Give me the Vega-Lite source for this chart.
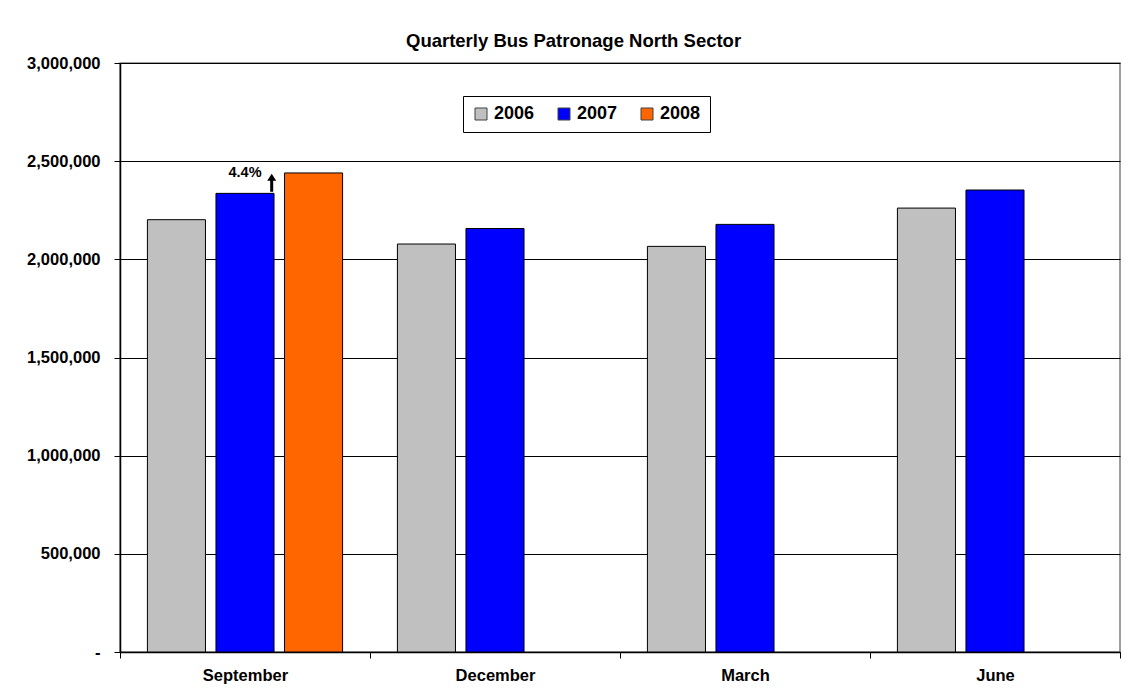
{
  "$schema": "https://vega.github.io/schema/vega-lite/v6.json",
  "width": 1000,
  "height": 589,
  "autosize": {"type": "none"},
  "padding": {"left": 120, "top": 63, "right": 10, "bottom": 45},
  "background": "white",
  "config": {
    "font": "Liberation Sans",
    "view": {"stroke": "#808080", "strokeWidth": 1.5}
  },
  "title": {
    "text": "Quarterly Bus Patronage North Sector",
    "fontSize": 18.5,
    "fontWeight": "bold",
    "font": "Liberation Sans",
    "color": "black",
    "anchor": "middle",
    "frame": "bounds",
    "offset": 5
  },
  "datasets": {
    "patronage": [
      {"month": "September", "year": "2006", "passengers": 2202000},
      {"month": "September", "year": "2007", "passengers": 2336000},
      {"month": "September", "year": "2008", "passengers": 2440000},
      {"month": "December", "year": "2006", "passengers": 2078000},
      {"month": "December", "year": "2007", "passengers": 2157000},
      {"month": "March", "year": "2006", "passengers": 2066000},
      {"month": "March", "year": "2007", "passengers": 2178000},
      {"month": "June", "year": "2006", "passengers": 2261000},
      {"month": "June", "year": "2007", "passengers": 2353000}
    ],
    "note": [
      {"month": "September", "year": "2007", "label": "4.4%", "labelAt": 2441000, "arrowBase": 2336000}
    ]
  },
  "layer": [
    {
      "data": {"name": "patronage"},
      "mark": {"type": "bar", "stroke": "black", "strokeWidth": 1},
      "encoding": {
        "x": {
          "field": "month",
          "type": "nominal",
          "sort": ["September", "December", "March", "June"],
          "scale": {"paddingInner": 0, "paddingOuter": 0},
          "axis": {
            "title": null,
            "labelAngle": 0,
            "labelFontSize": 16.5,
            "labelFontWeight": "bold",
            "labelColor": "black",
            "labelPadding": 9,
            "tickBand": "extent",
            "tickSize": 6,
            "tickColor": "black",
            "domainColor": "black",
            "domainWidth": 1.5
          }
        },
        "xOffset": {
          "field": "year",
          "type": "nominal",
          "scale": {"domain": ["2006", "2007", "2008"], "paddingInner": 0.153, "paddingOuter": 0.4}
        },
        "y": {
          "field": "passengers",
          "type": "quantitative",
          "scale": {"domain": [0, 3000000], "nice": false},
          "axis": {
            "title": null,
            "values": [0, 500000, 1000000, 1500000, 2000000, 2500000, 3000000],
            "labelExpr": "datum.value == 0 ? '-\u00a0\u00a0\u00a0\u00a0' : format(datum.value, ',')",
            "labelFontSize": 16.5,
            "labelFontWeight": "bold",
            "labelColor": "black",
            "labelPadding": 14,
            "tickSize": 6,
            "tickColor": "black",
            "domainColor": "black",
            "domainWidth": 1.5,
            "grid": true,
            "gridColor": "black",
            "gridWidth": 1
          }
        },
        "color": {
          "field": "year",
          "type": "nominal",
          "scale": {"domain": ["2006", "2007", "2008"], "range": ["#C0C0C0", "#0000FF", "#FF6600"]},
          "legend": {
            "title": null,
            "orient": "none",
            "direction": "horizontal",
            "legendX": 343,
            "legendY": 33,
            "fillColor": "white",
            "strokeColor": "black",
            "padding": 9,
            "symbolType": "square",
            "symbolSize": 144,
            "symbolStrokeColor": "#404040",
            "symbolStrokeWidth": 1,
            "symbolOpacity": 1,
            "labelFontSize": 18,
            "labelFontWeight": "bold",
            "labelColor": "black",
            "labelOffset": 4,
            "columnPadding": 20
          }
        }
      }
    },
    {
      "data": {"name": "note"},
      "mark": {"type": "text", "fontSize": 14.5, "fontWeight": "bold", "color": "black", "baseline": "middle", "align": "center"},
      "encoding": {
        "x": {"field": "month", "type": "nominal", "sort": ["September", "December", "March", "June"]},
        "xOffset": {"field": "year", "type": "nominal"},
        "y": {"field": "labelAt", "type": "quantitative"},
        "text": {"field": "label"}
      }
    },
    {
      "data": {"name": "note"},
      "mark": {
        "type": "point",
        "shape": "M2.52,-0.17 L2.82,-0.17 L2.82,-1.27 L3.12,-1.27 L2.67,-1.97 L2.22,-1.27 L2.52,-1.27 Z",
        "filled": true,
        "color": "black",
        "opacity": 1,
        "strokeWidth": 0,
        "size": 400
      },
      "encoding": {
        "x": {"field": "month", "type": "nominal", "sort": ["September", "December", "March", "June"]},
        "xOffset": {"field": "year", "type": "nominal"},
        "y": {"field": "arrowBase", "type": "quantitative"}
      }
    }
  ]
}
